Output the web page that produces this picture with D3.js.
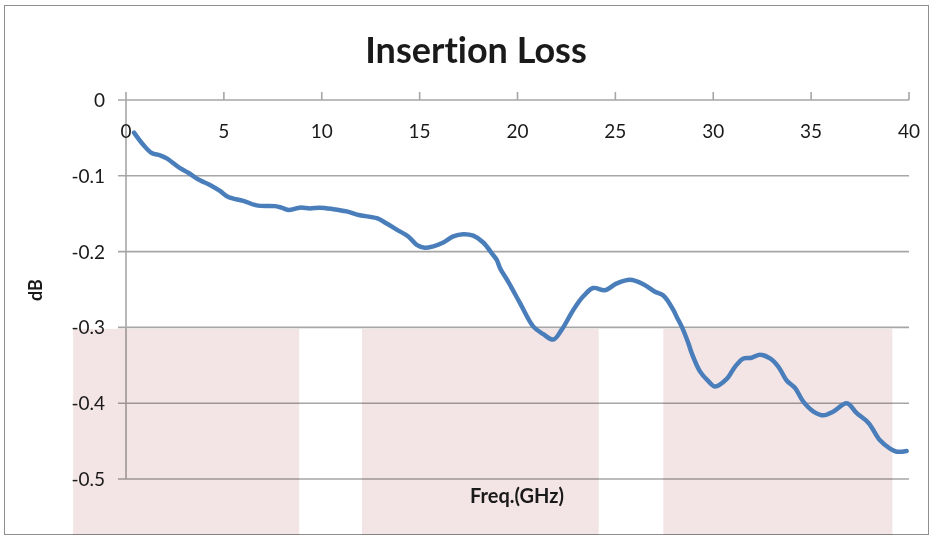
<!DOCTYPE html>
<html>
<head>
<meta charset="utf-8">
<script src="https://cdn.jsdelivr.net/npm/d3@7/dist/d3.min.js"></script>
<style>
  html, body { margin: 0; padding: 0; background: #fff; }
  svg { display: block; }
  text { font-family: Lato, "Open Sans", sans-serif; font-variant-ligatures: none; }
</style>
</head>
<body>
<svg id="chart" width="932" height="537"></svg>
<script>
// ---- data ----
const freq = [0.41,0.88,1.31,1.74,2.08,2.76,3.18,3.78,4.29,4.80,5.23,5.99,6.67,7.61,7.95,8.29,8.89,9.40,9.91,
  10.59,11.27,11.95,12.81,13.32,13.83,14.42,14.85,15.27,15.70,16.21,16.72,17.23,17.74,18.25,18.68,18.94,19.11,
  19.53,20.13,20.81,21.32,21.83,22.26,22.85,23.36,23.87,24.47,25.07,25.75,26.43,27.02,27.45,27.96,28.13,28.39,
  28.73,28.90,29.32,29.75,30.09,30.69,31.11,31.54,31.96,32.39,32.90,33.33,33.75,34.18,34.60,35.12,35.63,36.14,
  36.82,37.33,37.93,38.52,39.03,39.37,39.88];
const lossDb = [-0.043,-0.059,-0.070,-0.073,-0.077,-0.090,-0.096,-0.106,-0.112,-0.120,-0.128,-0.133,-0.139,-0.140,-0.142,-0.145,-0.142,-0.143,-0.142,
  -0.144,-0.147,-0.152,-0.156,-0.163,-0.171,-0.180,-0.191,-0.195,-0.193,-0.188,-0.180,-0.177,-0.179,-0.188,-0.202,-0.211,-0.222,
  -0.240,-0.268,-0.299,-0.309,-0.316,-0.303,-0.277,-0.259,-0.248,-0.251,-0.242,-0.237,-0.243,-0.253,-0.258,-0.277,-0.286,-0.299,
  -0.321,-0.334,-0.358,-0.371,-0.378,-0.368,-0.352,-0.341,-0.340,-0.336,-0.341,-0.352,-0.370,-0.380,-0.398,-0.411,-0.416,-0.411,
  -0.400,-0.413,-0.426,-0.449,-0.460,-0.464,-0.463];
const xTicks = [0,5,10,15,20,25,30,35,40];
const yTicks = [0,-0.1,-0.2,-0.3,-0.4,-0.5];
const yTickLabels = ["0","-0.1","-0.2","-0.3","-0.4","-0.5"];
const bandStart = [-2.7, 12.05, 27.45];
const bandEnd = [8.85, 24.15, 39.15];
const bandTop = -0.302;
const title = "Insertion Loss";
const xTitle = "Freq.(GHz)";
const yTitle = "dB";

// ---- drawing ----
const svg = d3.select("#chart");
const x = d3.scaleLinear().domain([0, 40]).range([126, 909]);
const y = d3.scaleLinear().domain([0, -0.5]).range([100, 479]);

// outer border
svg.append("rect").attr("x", 4.5).attr("y", 5.5).attr("width", 924).attr("height", 529)
  .attr("fill", "#fff").attr("stroke", "#8e8e8e").attr("stroke-width", 1);

// gridlines
svg.append("g").selectAll("line").data(yTicks).join("line")
  .attr("x1", x(0) - 8).attr("x2", x(40))
  .attr("y1", d => y(d)).attr("y2", d => y(d))
  .attr("stroke", "#a6a6a6").attr("stroke-width", 1.6);

// vertical axis line
svg.append("line").attr("x1", x(0)).attr("x2", x(0)).attr("y1", y(0)).attr("y2", y(-0.5))
  .attr("stroke", "#a6a6a6").attr("stroke-width", 1.6);

// x ticks (upward)
svg.append("g").selectAll("line").data(xTicks).join("line")
  .attr("x1", d => x(d)).attr("x2", d => x(d))
  .attr("y1", y(0) - 8).attr("y2", y(0))
  .attr("stroke", "#a6a6a6").attr("stroke-width", 1.6);

// pink bands
const bands = bandStart.map((s, i) => ({ s, e: bandEnd[i] }));
svg.append("g").selectAll("rect").data(bands).join("rect")
  .attr("x", d => x(d.s)).attr("width", d => x(d.e) - x(d.s))
  .attr("y", y(bandTop)).attr("height", 535 - y(bandTop))
  .attr("fill", "#f3e5e6").style("mix-blend-mode", "multiply");

// x tick labels
svg.append("g").selectAll("text").data(xTicks).join("text")
  .attr("x", d => x(d)).attr("y", 138)
  .attr("text-anchor", "middle").attr("font-size", 19).attr("fill", "#1a1a1a")
  .text(d => d);

// y tick labels
svg.append("g").selectAll("text").data(yTicks).join("text")
  .attr("x", 105).attr("y", d => y(d) + 7)
  .attr("text-anchor", "end").attr("font-size", 19).attr("fill", "#1a1a1a")
  .text((d, i) => yTickLabels[i]);

// line
const pts = freq.map((f, i) => [f, lossDb[i]]);
svg.append("path").datum(pts)
  .attr("d", d3.line().x(d => x(d[0])).y(d => y(d[1])).curve(d3.curveCatmullRom.alpha(0.5)))
  .attr("fill", "none").attr("stroke", "#4a7ebb").attr("stroke-width", 4.5)
  .attr("stroke-linecap", "round").attr("stroke-linejoin", "round");

// titles
svg.append("text").attr("x", 476).attr("y", 63).attr("text-anchor", "middle")
  .attr("font-size", 36).attr("font-weight", "bold").attr("fill", "#1a1a1a").text(title);
svg.append("text").attr("x", 517).attr("y", 503).attr("text-anchor", "middle")
  .attr("font-size", 20).attr("font-weight", "bold").attr("fill", "#1a1a1a").text(xTitle);
svg.append("text").attr("transform", "translate(42,290) rotate(-90)").attr("text-anchor", "middle")
  .attr("font-size", 18).attr("font-weight", "bold").attr("fill", "#1a1a1a").text(yTitle);
</script>
</body>
</html>
